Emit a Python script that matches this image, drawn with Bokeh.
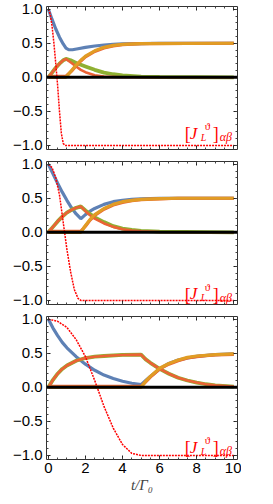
from bokeh.plotting import figure
from bokeh.layouts import column
from bokeh.models import LinearAxis, Span, Label, FixedTicker
from bokeh.embed import file_html
from bokeh.resources import INLINE

# ---------------- data ----------------
Y_TICKS = [-1.0, -0.5, 0.0, 0.5, 1.0]
Y_TICK_LABELS = {-1.0: "\u22121.0", -0.5: "\u22120.5", 0.0: "0.0", 0.5: "0.5", 1.0: "1.0"}
X_TICKS = [0, 2, 4, 6, 8, 10]
X_TICK_LABELS = {0: "0", 2: "2", 4: "4", 6: "6", 8: "8", 10: "10"}

# Panel 1
P1_T_BLUE = [0, 0.2, 0.4, 0.6, 0.8, 0.95, 1.1, 1.3, 1.6, 2.0, 2.5, 3.0, 3.5, 4.0, 5.0, 6.0, 10.0]
P1_BLUE = [1.0, 0.85, 0.71, 0.59, 0.49, 0.43, 0.405, 0.405, 0.42, 0.44, 0.46, 0.475, 0.485, 0.49, 0.495, 0.5, 0.5]
P1_T_GREEN = [0, 0.2, 0.4, 0.6, 0.8, 0.95, 1.2, 1.5, 2.0, 2.5, 3.0, 3.5, 4.0, 5.0, 6.0, 10.0]
P1_GREEN = [0, 0.07, 0.14, 0.2, 0.25, 0.27, 0.25, 0.21, 0.16, 0.11, 0.07, 0.045, 0.03, 0.01, 0.005, 0.0]
P1_T_RED = [0, 0.2, 0.4, 0.6, 0.8, 0.95, 1.25, 1.5, 1.75, 2.0, 2.5, 3.0, 4.0, 10.0]
P1_RED = [0, 0.07, 0.14, 0.2, 0.25, 0.27, 0.21, 0.16, 0.11, 0.075, 0.03, 0.01, 0.0, 0.0]
P1_T_ORANGE = [0, 0.95, 1.25, 1.5, 1.75, 2.0, 2.5, 3.0, 3.5, 4.0, 5.0, 10.0]
P1_RED2 = [0.015, 0.015, 0.09, 0.17, 0.24, 0.3, 0.38, 0.43, 0.46, 0.48, 0.495, 0.5]
P1_ORANGE = [0, 0, 0.1, 0.18, 0.25, 0.31, 0.39, 0.44, 0.47, 0.485, 0.495, 0.5]
P1_T_J = [0, 0.1, 0.2, 0.3, 0.4, 0.5, 0.6, 0.7, 0.8, 0.9, 10.0]
P1_J = [1.0, 0.93, 0.75, 0.5, 0.2, -0.12, -0.5, -0.82, -0.97, -1.0, -1.0]

# Panel 2
P2_T_BLUE = [0, 0.25, 0.5, 0.75, 1.0, 1.25, 1.5, 1.75, 2.0, 2.25, 2.5, 3.0, 3.5, 4.0, 4.5, 5.0, 6.0, 10.0]
P2_BLUE = [1.0, 0.86, 0.72, 0.59, 0.47, 0.36, 0.27, 0.2, 0.26, 0.31, 0.35, 0.41, 0.45, 0.47, 0.485, 0.49, 0.5, 0.5]
P2_T_GREEN = [0, 0.25, 0.5, 0.75, 1.0, 1.25, 1.5, 1.75, 2.0, 2.25, 2.5, 3.0, 3.5, 4.0, 4.5, 5.0, 6.0, 10.0]
P2_GREEN = [0, 0.08, 0.16, 0.23, 0.29, 0.33, 0.36, 0.38, 0.32, 0.27, 0.22, 0.15, 0.09, 0.055, 0.035, 0.02, 0.01, 0.0]
P2_RED = [0, 0.08, 0.16, 0.23, 0.29, 0.33, 0.36, 0.38, 0.31, 0.25, 0.2, 0.13, 0.08, 0.045, 0.025, 0.015, 0.005, 0.0]
P2_T_ORANGE = [0, 1.75, 2.0, 2.25, 2.5, 3.0, 3.5, 4.0, 4.5, 5.0, 6.0, 7.0, 10.0]
P2_RED2 = [0.015, 0.015, 0.09, 0.18, 0.25, 0.34, 0.4, 0.44, 0.465, 0.48, 0.49, 0.5, 0.5]
P2_ORANGE = [0, 0, 0.1, 0.19, 0.26, 0.35, 0.41, 0.45, 0.47, 0.485, 0.495, 0.5, 0.5]
P2_T_J = [0, 0.2, 0.4, 0.6, 0.8, 1.0, 1.2, 1.4, 1.6, 1.75, 10.0]
P2_J = [1.0, 0.95, 0.8, 0.55, 0.15, -0.25, -0.58, -0.84, -0.97, -1.0, -1.0]

# Panel 3
P3_T_BLUE = [0, 0.25, 0.5, 0.75, 1, 1.5, 2, 2.5, 3, 3.5, 4, 4.5, 5, 5.25, 5.5, 6, 6.5, 7, 7.5, 8, 9, 10]
P3_BLUE = [1.0, 0.87, 0.76, 0.66, 0.58, 0.45, 0.34, 0.25, 0.18, 0.13, 0.09, 0.06, 0.04, 0.1, 0.16, 0.27, 0.35, 0.4, 0.43, 0.455, 0.48, 0.49]
P3_T_GREEN = [0, 0.25, 0.5, 0.75, 1, 1.5, 2, 2.5, 3, 4, 5, 5.25, 5.5, 6, 6.5, 7, 7.5, 8, 8.5, 9, 10]
P3_GREEN = [0, 0.11, 0.2, 0.27, 0.32, 0.39, 0.43, 0.45, 0.46, 0.475, 0.48, 0.41, 0.36, 0.27, 0.2, 0.14, 0.1, 0.07, 0.045, 0.03, 0.01]
P3_RED = [0, 0.11, 0.2, 0.27, 0.32, 0.39, 0.43, 0.45, 0.46, 0.475, 0.48, 0.41, 0.36, 0.27, 0.2, 0.14, 0.1, 0.07, 0.045, 0.03, 0.01]
P3_T_ORANGE = [0, 5, 5.25, 5.5, 6, 6.5, 7, 7.5, 8, 8.5, 9, 10]
P3_RED2 = [0.015, 0.015, 0.08, 0.15, 0.27, 0.34, 0.39, 0.43, 0.45, 0.465, 0.475, 0.485]
P3_ORANGE = [0, 0, 0.09, 0.16, 0.28, 0.35, 0.4, 0.44, 0.46, 0.47, 0.48, 0.49]
P3_T_J = [0, 0.5, 1.0, 1.5, 2.0, 2.5, 3.0, 3.5, 4.0, 4.5, 5.0, 10.0]
P3_J = [1.0, 0.97, 0.88, 0.7, 0.45, 0.1, -0.28, -0.6, -0.84, -0.97, -1.0, -1.0]

PANELS = [
    dict(tb=P1_T_BLUE, b=P1_BLUE, tg=P1_T_GREEN, g=P1_GREEN, tr=P1_T_RED, r=P1_RED,
         to=P1_T_ORANGE, r2=P1_RED2, o=P1_ORANGE, tj=P1_T_J, j=P1_J, lab_y=-0.82),
    dict(tb=P2_T_BLUE, b=P2_BLUE, tg=P2_T_GREEN, g=P2_GREEN, tr=P2_T_GREEN, r=P2_RED,
         to=P2_T_ORANGE, r2=P2_RED2, o=P2_ORANGE, tj=P2_T_J, j=P2_J, lab_y=-0.90),
    dict(tb=P3_T_BLUE, b=P3_BLUE, tg=P3_T_GREEN, g=P3_GREEN, tr=P3_T_GREEN, r=P3_RED,
         to=P3_T_ORANGE, r2=P3_RED2, o=P3_ORANGE, tj=P3_T_J, j=P3_J, lab_y=-0.88),
]

BLUE = "#5E81B5"
ORANGE = "#E19C24"
GREEN = "#8FB032"
RED = "#EB6235"
JRED = "#FF0000"
FONT = "Liberation Sans"
SERIF = "Liberation Serif"


def style_axis(ax, labels, size):
    ax.axis_line_color = None
    ax.major_tick_in = 4
    ax.major_tick_out = 0
    ax.minor_tick_in = 2
    ax.minor_tick_out = 0
    ax.major_tick_line_color = "#222222"
    ax.minor_tick_line_color = "#444444"
    if labels:
        ax.major_label_text_font = FONT
        ax.major_label_text_font_size = size
        ax.major_label_text_color = "#000000"
    else:
        ax.major_label_text_font_size = "1px"
        ax.major_label_text_color = None
        ax.major_label_standoff = 0


def make_panel(d, i):
    last = i == 2
    top = 6
    bottom = 36 if last else 6
    p = figure(frame_width=191, frame_height=143, x_range=(-0.1, 10.2), y_range=(-1.06, 1.04),
               output_backend="svg", toolbar_location=None,
               min_border_left=46, min_border_right=4, min_border_top=top, min_border_bottom=bottom,
               x_axis_location=None, y_axis_location=None)
    p.grid.visible = False
    p.outline_line_color = "#333333"
    p.outline_line_width = 1
    p.background_fill_color = "white"
    p.border_fill_color = "white"

    left = LinearAxis(ticker=FixedTicker(ticks=Y_TICKS, minor_ticks=[k / 10 for k in range(-10, 11)]))
    left.major_label_overrides = Y_TICK_LABELS
    style_axis(left, True, "15px")
    left.major_label_standoff = 4
    p.add_layout(left, "left")

    right = LinearAxis(ticker=FixedTicker(ticks=Y_TICKS, minor_ticks=[k / 10 for k in range(-10, 11)]))
    style_axis(right, False, None)
    p.add_layout(right, "right")

    xt = FixedTicker(ticks=X_TICKS, minor_ticks=[k / 2 for k in range(0, 21)])
    below = LinearAxis(ticker=xt)
    if last:
        below.major_label_overrides = X_TICK_LABELS
        style_axis(below, True, "15px")
        below.major_label_standoff = 3
        below.axis_label = "t/\u0393\u2080"
        below.axis_label_text_font = SERIF
        below.axis_label_text_font_style = "italic"
        below.axis_label_text_font_size = "15px"
        below.axis_label_standoff = 1
    else:
        style_axis(below, False, None)
    p.add_layout(below, "below")

    above = LinearAxis(ticker=FixedTicker(ticks=X_TICKS, minor_ticks=[k / 2 for k in range(0, 21)]))
    style_axis(above, False, None)
    p.add_layout(above, "above")

    w = 3.2
    p.line(d["tb"], d["b"], line_color=BLUE, line_width=w)
    p.line(d["tg"], d["g"], line_color=GREEN, line_width=w + 0.6)
    p.line(d["tr"], d["r"], line_color=RED, line_width=w - 0.6)
    p.line(d["to"], d["r2"], line_color=RED, line_width=w)
    p.line(d["to"], d["o"], line_color=ORANGE, line_width=w)
    p.add_layout(Span(location=0, dimension="width", line_color="black", line_width=3))
    p.line(d["tj"], d["j"], line_color=JRED, line_width=1.5, line_dash="2 1")

    x0 = 7.35
    y0 = d["lab_y"]
    parts = [
        ("[", 0, -1, "18px", "normal"),
        ("J", 5, 0, "17px", "italic"),
        ("L", 16, -4, "10px", "italic"),
        ("\u03d1", 20, 7, "11px", "normal"),
        ("]", 28, -1, "18px", "normal"),
        ("\u03b1\u03b2", 35, -4, "12px", "italic"),
    ]
    for txt, dx, dy, fs, st in parts:
        p.add_layout(Label(x=x0, y=y0, x_offset=dx, y_offset=dy, text=txt, text_color=JRED,
                           text_font=SERIF, text_font_size=fs, text_font_style=st,
                           text_baseline="alphabetic"))
    return p


figs = [make_panel(d, i) for i, d in enumerate(PANELS)]
layout = column(*figs, spacing=0)

open("out.html", "w").write(file_html(layout, INLINE))
